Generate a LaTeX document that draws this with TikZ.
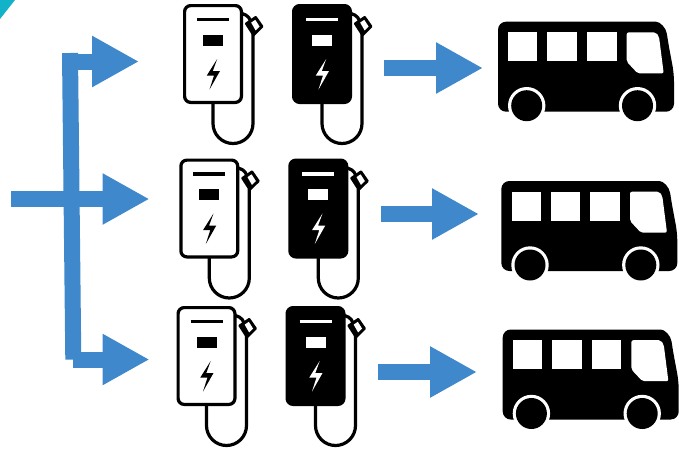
\documentclass[tikz,border=0pt]{standalone}
\usepackage{xcolor}
\usetikzlibrary{arrows.meta}
\definecolor{flow}{HTML}{3E88CB}
\definecolor{corner}{HTML}{12B3C8}
\tikzset{
  arr/.style={-{Triangle[length=47pt,width=48pt]}, line width=16pt, draw=flow},
  trunk/.style={line width=16pt, draw=flow},
  pics/charger/.style 2 args={code={
    % cable and nozzle
    \draw[line width=3.2pt] (30,99) -- (30,119.5) arc[start angle=180,end angle=0,radius=20] -- (70,30);
    \draw[line width=3.2pt, rounded corners=2pt] (59,9.5) -- (65,12) -- (69,20);
    \fill[rounded corners=1pt] (73,11.5) -- (80.8,22.7) -- (70.3,33) -- (61.5,19.3) -- cycle;
    \fill[white] (72.3,15.8) -- (76.6,22.6) -- (72.6,26.4) -- (68.2,18.6) -- cycle;
    % body
    \draw[line width=3.2pt, fill=#1, rounded corners=6pt] (1.6,1.6) rectangle (58.4,98.4);
    \draw[line width=3.8pt, draw=#2] (14,15.5) -- (46,15.5);
    \fill[#2] (20,30.5) rectangle (40,41.5);
    \fill[#2] (34.2,55) -- (23.8,71.5) -- (31,71.5) -- (26.5,85.5) -- (37,67) -- (29.8,67) -- cycle;
  }},
  pics/bus/.style={code={
    \fill[rounded corners=8pt] (0,0) -- (150,0) .. controls (162,0) and (168,6) .. (170,20) -- (176,52) -- (176,90) -- (0,90) -- cycle;
    \fill[white] (10.3,10.7) rectangle (39.3,39.7);
    \fill[white] (49.3,10.7) rectangle (79,39.7);
    \fill[white] (89,10.7) rectangle (118.7,39.7);
    \fill[white, rounded corners=2pt] (128.7,10.7) -- (158,10.7) -- (161,15) -- (165.7,51.7) -- (139.7,51.7) -- (128.7,40) -- cycle;
    \foreach \wx in {28.7,139.5} {
      \fill[white] (\wx,84) circle (18.7);
      \fill (\wx,84) circle (15.5);
    }
  }},
}
\begin{document}
\begin{tikzpicture}[x=1pt,y=-1pt]
  \useasboundingbox (0,0) rectangle (679,450);
  \fill[corner] (0,0) -- (15,0) -- (0,19) -- cycle;

  % feed lines
  \coordinate (top) at (70,53);
  \coordinate (bot) at (73.3,359.5);
  \coordinate (topst) at (62,61.5);
  \coordinate (topend) at (139,61.5);
  \coordinate (midst) at (11,199);
  \coordinate (midend) at (149.5,199);
  \coordinate (botst) at (73.3,359.5);
  \coordinate (botend) at (149.5,359.5);
  \draw[trunk] (top) -- (bot);
  \foreach \u/\v in {topst/topend,midst/midend,botst/botend} \draw[arr] (\u) -- (\v);

  % chargers
  \foreach \cx/\cy in {183/4,179.3/158.5,176.5/306} {
    \pic at (\cx,\cy) {charger={white}{black}};
    \pic at (\cx+109,\cy) {charger={black}{white}};
  }

  % charger to bus
  \coordinate (a1) at (384,68);
  \coordinate (b1) at (483,68);
  \coordinate (a2) at (381,214);
  \coordinate (b2) at (479,214);
  \coordinate (a3) at (378,372);
  \coordinate (b3) at (477,372);
  \foreach \u/\v in {a1/b1,a2/b2,a3/b3} \draw[arr] (\u) -- (\v);

  % buses
  \foreach \bx/\by in {498/21.7,501.3/181,502.7/329.5} \pic at (\bx,\by) {bus};
\end{tikzpicture}
\end{document}
